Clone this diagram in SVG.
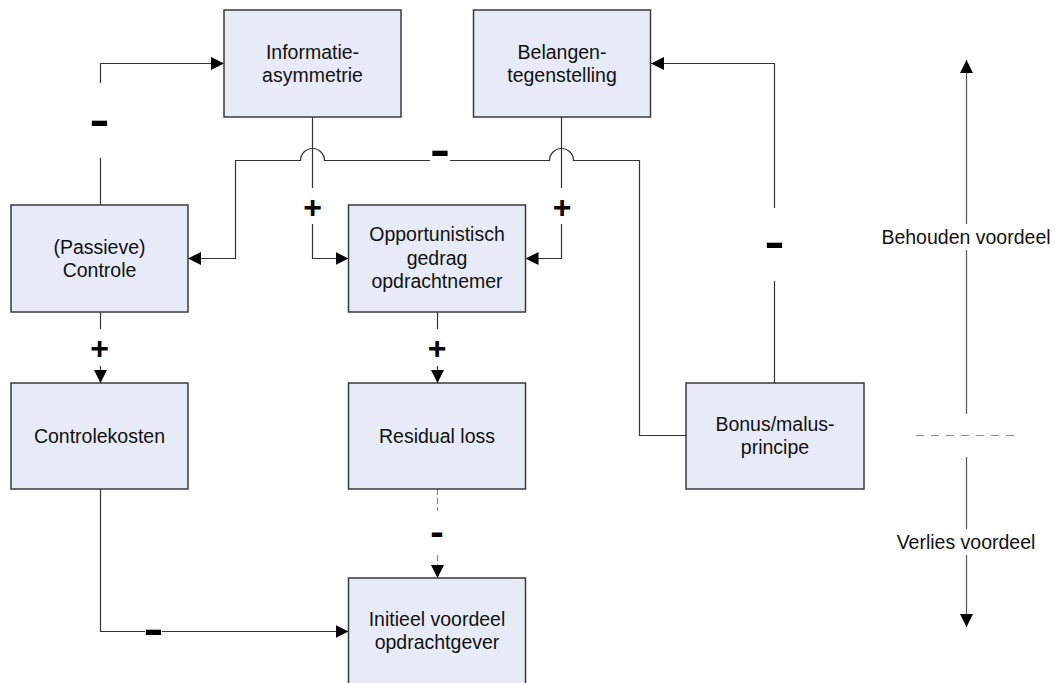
<svg xmlns="http://www.w3.org/2000/svg" width="1055" height="683" viewBox="0 0 1055 683">
  <style>
    .box { fill: #e7ebf7; stroke: #3a3a3a; stroke-width: 1.5; }
    .lbl { font-family: "Liberation Sans", Arial, sans-serif; font-size: 19.5px; fill: #111; text-anchor: middle; }
    .wire { fill: none; stroke: #333; stroke-width: 1.2; }
    .dash { fill: none; stroke: #8a8a8a; stroke-width: 1.2; stroke-dasharray: 6 3; }
    .axis { fill: none; stroke: #555; stroke-width: 1.2; }
    .axisdash { fill: none; stroke: #8c8c8c; stroke-width: 1.2; stroke-dasharray: 8 7; }
    .sign { font-family: "Liberation Sans", Arial, sans-serif; font-weight: bold; fill: #000; text-anchor: middle; }
    .plus { font-size: 32px; }
    .minus { font-size: 44px; }
    .minus-s { font-size: 36px; }
  </style>
  <defs>
    <marker id="arrow" markerUnits="userSpaceOnUse" markerWidth="14" markerHeight="13" refX="13" refY="6.5" orient="auto">
      <path d="M0,0 L13,6.5 L0,13 z" fill="#000"/>
    </marker>
  </defs>

  <!-- connectors -->
  <g id="connectors">
    <!-- Controle -> Informatie-asymmetrie -->
    <path class="wire" d="M100.5 205 V158"/>
    <path class="wire" d="M100.5 83 V63.5 H224" marker-end="url(#arrow)"/>
    <text class="sign minus" x="99.5" y="134.5" textLength="20" lengthAdjust="spacingAndGlyphs">-</text>

    <!-- Informatie-asymmetrie -> Opportunistisch gedrag -->
    <path class="wire" d="M312.5 117 V188"/>
    <path class="wire" d="M312.5 224 V258.5 H348.5" marker-end="url(#arrow)"/>
    <text class="sign plus" x="312.5" y="217.5">+</text>

    <!-- Belangentegenstelling -> Opportunistisch gedrag -->
    <path class="wire" d="M561.5 117 V188"/>
    <path class="wire" d="M561.5 224 V258.5 H525.5" marker-end="url(#arrow)"/>
    <text class="sign plus" x="562" y="217.5">+</text>

    <!-- Bonus/malus -> (Passieve) Controle, hopping over two vertical lines -->
    <path class="wire" d="M686 435.5 H639.5 V160.5 H573.5 A12 12 0 0 0 549.5 160.5 H450"/>
    <path class="wire" d="M430 160.5 H324.5 A12 12 0 0 0 300.5 160.5 H235.5 V258.5 H188" marker-end="url(#arrow)"/>
    <text class="sign minus" x="440" y="165" textLength="20" lengthAdjust="spacingAndGlyphs">-</text>

    <!-- Bonus/malus -> Belangentegenstelling -->
    <path class="wire" d="M774.5 383 V281"/>
    <path class="wire" d="M774.5 208 V63.5 H651" marker-end="url(#arrow)"/>
    <text class="sign minus" x="774.5" y="257" textLength="20" lengthAdjust="spacingAndGlyphs">-</text>

    <!-- Controle -> Controlekosten -->
    <path class="wire" d="M100.5 312 V329"/>
    <path class="wire" d="M100.5 366 V383" marker-end="url(#arrow)"/>
    <text class="sign plus" x="99.5" y="358.5">+</text>

    <!-- Opportunistisch gedrag -> Residual loss -->
    <path class="wire" d="M437.5 312 V329"/>
    <path class="wire" d="M437.5 366 V383" marker-end="url(#arrow)"/>
    <text class="sign plus" x="437" y="358.5">+</text>

    <!-- Residual loss -> Initieel voordeel (dashed) -->
    <path class="dash" d="M437.5 489 V511"/>
    <path class="dash" d="M437.5 555 V578" marker-end="url(#arrow)"/>
    <text class="sign minus-s" x="437" y="543.5" textLength="13.5" lengthAdjust="spacingAndGlyphs">-</text>

    <!-- Controlekosten -> Initieel voordeel -->
    <path class="wire" d="M100.5 489 V631.5 H145"/>
    <path class="wire" d="M162 631.5 H348.5" marker-end="url(#arrow)"/>
    <text class="sign minus" x="153.5" y="643.5" textLength="20" lengthAdjust="spacingAndGlyphs">-</text>
  </g>

  <!-- nodes -->
  <g id="informatie-asymmetrie">
    <rect class="box" x="224" y="10" width="177" height="107"/>
    <text class="lbl" x="312.5" y="59">Informatie-</text>
    <text class="lbl" x="312.5" y="82">asymmetrie</text>
  </g>
  <g id="belangentegenstelling">
    <rect class="box" x="473.5" y="10" width="177" height="107"/>
    <text class="lbl" x="562" y="59">Belangen-</text>
    <text class="lbl" x="562" y="82">tegenstelling</text>
  </g>
  <g id="passieve-controle">
    <rect class="box" x="11" y="205" width="177" height="107"/>
    <text class="lbl" x="99.5" y="254">(Passieve)</text>
    <text class="lbl" x="99.5" y="277">Controle</text>
  </g>
  <g id="opportunistisch-gedrag">
    <rect class="box" x="348.5" y="205" width="177" height="107"/>
    <text class="lbl" x="437" y="241">Opportunistisch</text>
    <text class="lbl" x="437" y="264.5">gedrag</text>
    <text class="lbl" x="437" y="288">opdrachtnemer</text>
  </g>
  <g id="controlekosten">
    <rect class="box" x="11" y="383" width="177" height="106"/>
    <text class="lbl" x="99.5" y="442.5">Controlekosten</text>
  </g>
  <g id="residual-loss">
    <rect class="box" x="348.5" y="383" width="177" height="106"/>
    <text class="lbl" x="437" y="442.5">Residual loss</text>
  </g>
  <g id="bonus-malus">
    <rect class="box" x="686" y="383" width="178" height="106"/>
    <text class="lbl" x="775" y="430.5">Bonus/malus-</text>
    <text class="lbl" x="775" y="453.5">principe</text>
  </g>
  <g id="initieel-voordeel">
    <rect class="box" x="348.5" y="578" width="177" height="107"/>
    <text class="lbl" x="437" y="626">Initieel voordeel</text>
    <text class="lbl" x="437" y="649">opdrachtgever</text>
  </g>

  <!-- advantage scale on the right -->
  <g id="scale">
    <path class="axis" d="M966.5 224 V60" marker-end="url(#arrow)"/>
    <path class="axis" d="M966.5 250 V414"/>
    <text class="lbl" x="966" y="243.5">Behouden voordeel</text>
    <path class="axisdash" d="M916 435.5 H1020"/>
    <path class="axis" d="M966.5 457 V529"/>
    <text class="lbl" x="966" y="549">Verlies voordeel</text>
    <path class="axis" d="M966.5 555 V627" marker-end="url(#arrow)"/>
  </g>
</svg>
